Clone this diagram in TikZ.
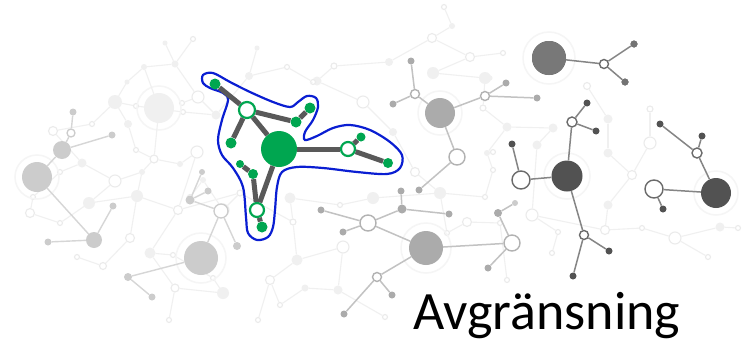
\documentclass[tikz,border=0pt]{standalone}
\usepackage{fontspec}
\setmainfont{Carlito}
\definecolor{gclr}{RGB}{0,166,80}
\definecolor{bclr}{RGB}{10,30,210}
\definecolor{eclr}{RGB}{89,89,89}
\begin{document}
\begin{tikzpicture}[x=1pt,y=-1pt,
  fdot/.style={circle,inner sep=0,fill=black!6},
  fring/.style={circle,inner sep=0,fill=white,draw=black!8,line width=1.1pt},
  fedge/.style={draw=black!6,line width=1.1pt},
  ldot/.style={circle,inner sep=0,fill=black!20},
  lring/.style={circle,inner sep=0,fill=white,draw=black!20,line width=1.3pt},
  ledge/.style={draw=black!16,line width=1.4pt},
  mdot/.style={circle,inner sep=0,fill=black!33},
  mring/.style={circle,inner sep=0,fill=white,draw=black!30,line width=1.4pt},
  medge/.style={draw=black!24,line width=1.5pt},
  ddot/.style={circle,inner sep=0,fill=black!68},
  dring/.style={circle,inner sep=0,fill=white,draw=black!58,line width=1.4pt},
  dedge/.style={draw=black!48,line width=1.5pt},
  halo/.style={draw=black!4,line width=1.5pt},
  gdot/.style={circle,inner sep=0,fill=gclr},
  gring/.style={circle,inner sep=0,fill=white,draw=gclr,line width=2.2pt},
  gedge/.style={draw=eclr,line width=5pt},
  blueline/.style={draw=bclr,line width=2.2pt},
  title/.style={font=\fontsize{54}{60}\selectfont,anchor=base west,inner sep=0}]
\useasboundingbox (0,0) rectangle (747,343);
\fill[white] (0,0) rectangle (747,343);

% faint background network
\foreach \x/\y/\s/\k [count=\i] in {
165/43/5/fdot, 193/39/5/fring, 175/64/7/fdot, 144/67/6/fdot, 127/82/5/fdot,
115/102/14/fdot, 136/106/5/fring, 128/124/8/fdot, 92/124/5/fring, 182/103/5/fring,
198/97/12/fring, 183/112/5/fring, 53/131/9/fring, 82/163/9/fdot, 136/150/5/fring,
154/159/8/fring, 180/164/6/fdot, 216/115/9/fdot, 197/152/12/fring, 60/172/5/fring,
115/181/12/fring, 142/172/6/fdot, 33/197/5/fring, 30/213/9/fring, 60/223/5/fring,
89/203/12/fdot, 137/196/12/fdot, 130/238/9/fring, 178/210/9/fring, 150/253/11/fdot,
103/266/7/fring, 77/257/5/fring, 173/255/5/fring, 175/288/8/fring, 223/293/12/fdot,
169/320/5/fring, 213/278/5/fring, 240/193/6/fring, 293/222/6/fring, 290/198/11/fdot,
343/247/12/fring, 297/260/11/fdot, 270/280/9/fring, 258/320/5/fring, 280/305/5/fring,
305/288/7/fdot, 338/290/9/fdot, 385/317/5/fring, 373/198/12/fdot, 340/205/5/fring,
440/193/12/fdot, 485/197/5/fring, 467/222/9/fring, 447/233/5/fring, 507/280/5/fring,
500/223/5/fring, 444/7/5/fring, 452/26/6/fdot, 432/38/9/fring, 470/57/9/fring,
503/53/5/fring, 389/62/8/fdot, 433/73/12/fdot, 485/78/12/fdot, 363/102/12/fring,
334/66/6/fring, 317/81/9/fdot, 393/132/8/fdot, 483/108/6/fring, 507/127/9/fdot,
487/153/6/fdot, 493/170/5/fring, 415/172/9/fring, 490/78/5/fdot, 587/86/7/fring,
553/128/9/fdot, 608/119/9/fdot, 650/109/6/fring, 537/145/9/fdot, 608/153/9/fdot,
632/175/9/fring, 650/143/12/fring, 608/205/9/fdot, 605/230/9/fring, 558/232/5/fring,
532/215/12/fring, 642/228/5/fring, 675/238/12/fring, 720/227/9/fdot, 738/228/5/fring,
708/257/5/fring, 552/253/5/fring, 493/152/5/fring, 257/48/5/fdot, 249/76/8/fdot,
287/67/5/fring, 313/82/5/fring, 203/180/6/fdot, 223/210/12/fring, 190/197/5/fring}
  \node[\k,minimum size=\s pt] (f\i) at (\x,\y) {};
\foreach \a/\b in {1/3,2/3,3/4,4/5,5/6,3/11,6/7,6/9,6/8,7/12,8/15,9/13,13/14,14/20,
  15/16,16/17,16/22,17/19,18/11,11/10,19/29,21/22,21/26,20/23,23/24,24/25,25/26,26/27,
  27/28,27/29,28/31,29/30,30/33,31/32,30/34,34/36,35/37,35/34,33/37,29/38,38/39,39/40,
  39/42,42/43,43/44,43/45,45/46,46/47,47/48,41/42,41/47,40/50,50/49,49/51,51/52,51/54,
  54/53,53/56,56/55,52/72,57/58,58/59,59/62,59/60,60/61,60/63,63/64,64/74,62/66,66/67,
  67/65,65/68,68/73,73/51,64/69,69/70,70/71,71/72,71/93,70/76,76/79,79/86,86/85,85/92,
  77/80,80/81,81/82,82/78,77/75,81/83,83/84,84/87,87/88,88/89,89/90,88/91,86/84,94/95,
  95/96,96/97,97/67,95/18,98/100,98/99,99/38,14/21,22/27,12/18}
  \draw[fedge] (f\a) -- (f\b);

% light left network
\foreach \x/\y/\s/\k [count=\i] in {
159/108/30/fdot, 73/112/7/ldot, 71/133/8/lring, 62/150/18/ldot, 112/135/7/ldot,
37/177/30/ldot, 94/240/16/ldot, 113/206/7/ldot, 48/242/7/ldot, 201/258/34/ldot,
128/277/8/ldot, 152/297/7/ldot, 221/211/14/lring, 190/200/9/ldot, 208/191/7/ldot,
202/172/6/ldot, 237/246/8/ldot}
  \node[\k,minimum size=\s pt] (l\i) at (\x,\y) {};
\draw[halo] (l1) circle (22pt);
\draw[halo] (l6) circle (22pt);
\draw[halo] (l10) circle (25pt);
\foreach \a/\b in {1/4,1/16} \draw[fedge] (l\a) -- (f\b);
\foreach \a/\b in {2/3,3/4,4/5,4/6,6/7,7/8,7/9,10/11,11/12,10/13,13/14,14/15,14/16,13/17}
  \draw[ledge] (l\a) -- (l\b);

% medium network
\foreach \x/\y/\s/\k [count=\i] in {
440/113/30/mdot, 415/94/9/mring, 411/61/7/mdot, 393/104/7/mdot, 485/96/9/mring,
506/83/7/mdot, 537/98/7/mdot, 457/157/16/mring, 419/190/7/mdot, 321/210/7/mdot,
368/223/16/mring, 343/232/7/mdot, 402/209/9/mdot, 401/191/7/mdot, 449/214/7/mdot,
426/248/34/mdot, 377/277/9/mring, 392/295/7/mdot, 344/314/7/mdot, 512/243/16/mring,
488/268/7/mdot, 498/213/8/mdot, 515/203/6/ldot}
  \node[\k,minimum size=\s pt] (m\i) at (\x,\y) {};
\draw[halo] (m1) circle (22pt);
\draw[halo] (m16) circle (25pt);
\foreach \a/\b in {3/2,4/2,2/1,1/5,5/6,5/7,1/8,8/9,10/11,12/11,11/13,13/14,13/15,11/16,
  16/20,16/17,17/18,17/19,20/21,20/22,22/23}
  \draw[medge] (m\a) -- (m\b);

% dark right networks
\foreach \x/\y/\s/\k [count=\i] in {
549/58/34/ddot, 604/64/9/dring, 634/44/7/ddot, 625/82/7/ddot, 572/122/10/dring,
587/103/7/ddot, 596/131/7/ddot, 567/176/31/ddot, 512/144/7/ddot, 521/180/18/dring,
584/235/9/dring, 609/251/7/ddot, 573/276/7/ddot, 660/124/7/ddot, 702/136/7/ddot,
697/153/10/dring, 716/193/30/ddot, 654/189/18/dring, 663/209/7/ddot}
  \node[\k,minimum size=\s pt] (d\i) at (\x,\y) {};
\fill[black!53] (d1) circle (17pt);
\fill[black!55] (d3) circle (3.5pt);
\fill[black!55] (d4) circle (3.5pt);
\draw[halo] (d1) circle (26pt);
\draw[halo] (d8) circle (23pt);
\draw[halo] (d17) circle (22pt);
\foreach \a/\b in {1/2,2/3,2/4,6/5,5/7,5/8,9/10,10/8,8/11,11/12,11/13,14/16,15/16,16/17,18/17,18/19}
  \draw[dedge] (d\a) -- (d\b);

% highlighted green cluster
\draw[blueline] plot[smooth cycle,tension=0.55] coordinates {
(203,75) (213,73) (230,82) (250,92) (273,102) (290,107) (298,102) (307,96) (316,98)
(318,107) (313,120) (305,132) (305,140) (317,136) (333,128) (350,125) (370,130)
(390,142) (402,155) (400,168) (387,174) (357,172) (323,168) (297,167) (282,172)
(277,187) (275,210) (273,227) (268,237) (257,240) (248,233) (246,217) (243,187)
(233,168) (222,155) (218,140) (222,120) (228,100) (223,93) (210,88) (203,83)};
\foreach \x/\y/\s/\k [count=\i] in {
215/84/11/gdot, 247/110/16/gring, 296/122/11/gdot, 310/108/11/gdot, 231/143/11/gdot,
279/149/36/gdot, 348/149/14/gring, 361/137/9/gdot, 388/163/10/gdot, 240/164/8/gdot,
253/174/10/gdot, 257/210/14/gring, 262/227/11/gdot}
  \node[\k,minimum size=\s pt] (g\i) at (\x,\y) {};
\foreach \a/\b in {1/2,2/3,3/4,2/5,2/6,6/7,7/8,7/9,6/12,12/11,11/10,12/13}
  \draw[gedge] (g\a) -- (g\b);

\node[title] (t) at (413,329) {Avgränsning};
\end{tikzpicture}
\end{document}
